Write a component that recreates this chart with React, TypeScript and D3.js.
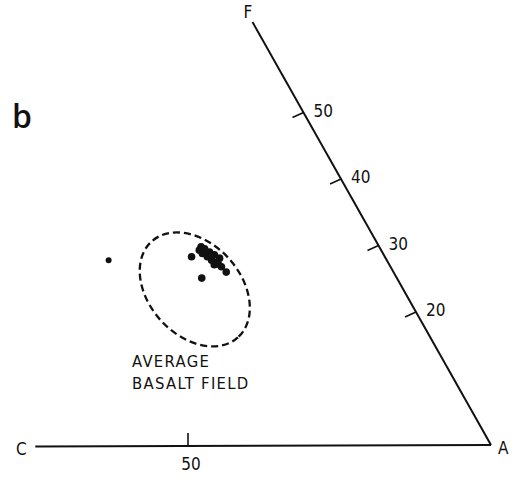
import React, { useEffect, useRef } from 'react';
import * as d3 from 'd3';

// ternary coords: c = % C, f = % F (A at origin)
const pointsC = [45.9, 31.9, 29.4, 29.0, 28.5, 27.95, 28.9, 28.1, 27.9, 27.6, 28.9, 29.3, 32.2, 30.0, 27.4, 29.8, 28.6, 28.2];
const pointsF = [27.8, 28.3, 29.8, 29.5, 29.0, 28.6, 27.8, 27.5, 26.8, 26.0, 27.1, 28.3, 25.1, 29.3, 28.1, 28.8, 28.4, 27.2];

const fTicks = [20, 30, 40, 50];
const cTicks = [50];

// average basalt field (centre in c,f)
const fieldCenter = [34.4, 23.4];

const W = 519, H = 478;
const A = [491, 445];

export default function App() {
  const ref = useRef<SVGSVGElement>(null);

  useEffect(() => {
    const svg = d3.select(ref.current);
    svg.selectAll('*').remove();

    const cx = d3.scaleLinear().domain([0, 100]).range([0, -606]);
    const fx = d3.scaleLinear().domain([0, 100]).range([0, -375]);
    const fy = d3.scaleLinear().domain([0, 100]).range([0, -665]);
    const proj = (c: number, f: number) => [A[0] + cx(c) + fx(f), A[1] + fy(f)];

    const g = svg.append('g');
    const font = '"DejaVu Sans Condensed", "DejaVu Sans", sans-serif';

    // C-A baseline
    const c0 = proj(0, 0), c1 = proj(75.2, 0);
    g.append('line').attr('x1', c1[0]).attr('y1', c1[1] + 1.5).attr('x2', c0[0]).attr('y2', c0[1])
      .attr('stroke', '#111').attr('stroke-width', 2);
    // F-A line
    const f1 = proj(0, 63.6);
    g.append('line').attr('x1', f1[0]).attr('y1', f1[1]).attr('x2', c0[0]).attr('y2', c0[1])
      .attr('stroke', '#111').attr('stroke-width', 2);

    // F ticks
    fTicks.forEach(t => {
      const p = proj(0, t);
      g.append('line').attr('x1', p[0]).attr('y1', p[1]).attr('x2', p[0] - 11).attr('y2', p[1] + 5)
        .attr('stroke', '#111').attr('stroke-width', 1.6);
      g.append('text').attr('x', p[0] + 10).attr('y', p[1] + 4)
        .attr('font-family', font).attr('font-size', 17).attr('fill', '#111').text(t);
    });
    // C ticks
    cTicks.forEach(t => {
      const p = proj(t, 0);
      g.append('line').attr('x1', p[0]).attr('y1', p[1] + 1).attr('x2', p[0]).attr('y2', p[1] - 12)
        .attr('stroke', '#111').attr('stroke-width', 1.6);
      g.append('text').attr('x', p[0] + 3).attr('y', p[1] + 25).attr('text-anchor', 'middle')
        .attr('font-family', font).attr('font-size', 17).attr('fill', '#111').text(t);
    });

    // vertex labels
    g.append('text').attr('x', 16).attr('y', 455).attr('font-family', font)
      .attr('font-size', 17).attr('fill', '#111').text('C');
    g.append('text').attr('x', c0[0] + 7).attr('y', c0[1] + 9).attr('font-family', font)
      .attr('font-size', 17).attr('fill', '#111').text('A');
    g.append('text').attr('x', f1[0] - 9).attr('y', f1[1] - 4).attr('font-family', font)
      .attr('font-size', 17).attr('fill', '#111').text('F');

    // basalt field
    const ec = proj(fieldCenter[0], fieldCenter[1]);
    g.append('ellipse').attr('cx', 0).attr('cy', 0).attr('rx', 64.5).attr('ry', 46)
      .attr('transform', `translate(${ec[0]},${ec[1]}) rotate(48)`)
      .attr('fill', 'none').attr('stroke', '#111').attr('stroke-width', 2.3)
      .attr('stroke-dasharray', '7,4');

    g.append('text').attr('x', 132).attr('y', 367).attr('font-family', font).attr('font-size', 16.5)
      .attr('letter-spacing', 1.3).attr('fill', '#111').text('AVERAGE');
    g.append('text').attr('x', 132).attr('y', 389).attr('font-family', font).attr('font-size', 16.5)
      .attr('letter-spacing', 1.3).attr('fill', '#111').text('BASALT FIELD');

    // data points
    g.selectAll('circle.pt').data(pointsC).enter().append('circle')
      .attr('class', 'pt')
      .attr('cx', (d, i) => proj(d, pointsF[i])[0])
      .attr('cy', (d, i) => proj(d, pointsF[i])[1])
      .attr('r', (d, i) => (i === 0 ? 3 : 3.8))
      .attr('fill', '#111');

    // panel label
    g.append('text').attr('x', 12).attr('y', 128).attr('font-family', '"Open Sans", "DejaVu Sans", sans-serif')
      .attr('font-size', 32).attr('font-weight', 600).attr('fill', '#111').text('b');
  }, []);

  return (
    <svg ref={ref} width={W} height={H}
      style={{ position: 'absolute', left: 0, top: 0, background: '#fff' }} />
  );
}
